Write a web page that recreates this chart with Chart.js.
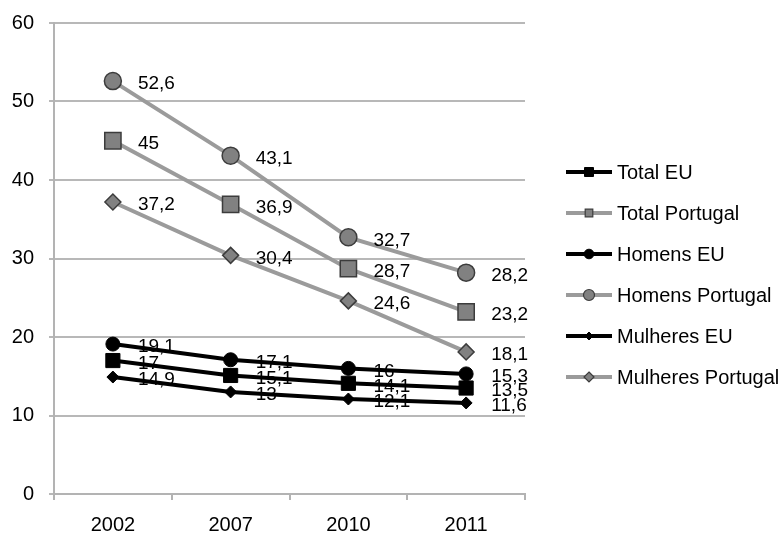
<!DOCTYPE html>
<html>
<head>
<meta charset="utf-8">
<script src="https://cdn.jsdelivr.net/npm/chart.js@4.4.0/dist/chart.umd.min.js"></script>
<style>
html,body{margin:0;padding:0;background:#fff;}
#wrap{width:782px;height:534px;position:relative;}
</style>
</head>
<body>
<div id="wrap"><canvas id="c" width="782" height="534"></canvas></div>
<script>
const categories = ['2002', '2007', '2010', '2011'];
const seriesNames = ['Total EU', 'Total Portugal', 'Homens EU', 'Homens Portugal', 'Mulheres EU', 'Mulheres Portugal'];
const totalEU = [17, 15.1, 14.1, 13.5];
const totalPT = [45, 36.9, 28.7, 23.2];
const homensEU = [19.1, 17.1, 16, 15.3];
const homensPT = [52.6, 43.1, 32.7, 28.2];
const mulheresEU = [14.9, 13, 12.1, 11.6];
const mulheresPT = [37.2, 30.4, 24.6, 18.1];
const yTicks = [0, 10, 20, 30, 40, 50, 60];

const FONT = '"Liberation Sans", Arial, Helvetica, sans-serif';
const GRAY_LINE = '#9b9b9b';
const GRAY_FILL = '#818181';
const GRAY_BORDER = '#3c3c3c';
const BLACK = '#000000';

function ds(label, data, isPT, style, radius) {
  return {
    label: label,
    data: data,
    borderColor: isPT ? GRAY_LINE : BLACK,
    backgroundColor: isPT ? GRAY_FILL : BLACK,
    borderWidth: 4,
    pointStyle: style,
    pointRadius: radius,
    pointHoverRadius: radius,
    pointBackgroundColor: isPT ? GRAY_FILL : BLACK,
    pointBorderColor: isPT ? GRAY_BORDER : BLACK,
    pointBorderWidth: isPT ? 1.5 : 1,
    tension: 0,
    fill: false,
    _isPT: isPT
  };
}

const datasets = [
  ds(seriesNames[0], totalEU, false, 'rect', 10),
  ds(seriesNames[1], totalPT, true, 'rect', 11.5),
  ds(seriesNames[2], homensEU, false, 'circle', 7),
  ds(seriesNames[3], homensPT, true, 'circle', 8.5),
  ds(seriesNames[4], mulheresEU, false, 'rectRot', 6),
  ds(seriesNames[5], mulheresPT, true, 'rectRot', 8)
];

const valueLabels = {
  id: 'valueLabels',
  afterDatasetsDraw(chart) {
    const ctx = chart.ctx;
    ctx.save();
    ctx.font = '19px ' + FONT;
    ctx.fillStyle = '#000';
    ctx.textAlign = 'left';
    ctx.textBaseline = 'middle';
    chart.data.datasets.forEach((d, i) => {
      const meta = chart.getDatasetMeta(i);
      meta.data.forEach((pt, j) => {
        const txt = String(d.data[j]).replace('.', ',');
        ctx.fillText(txt, pt.x + 25, pt.y + 3);
      });
    });
    ctx.restore();
  }
};

const customLegend = {
  id: 'customLegend',
  afterDraw(chart) {
    const ctx = chart.ctx;
    const x0 = chart.chartArea.right + 41;
    const yStart = 172;
    const step = 41;
    ctx.save();
    chart.data.datasets.forEach((d, i) => {
      const y = yStart + i * step;
      ctx.strokeStyle = d.borderColor;
      ctx.lineWidth = 4;
      ctx.beginPath();
      ctx.moveTo(x0, y);
      ctx.lineTo(x0 + 46, y);
      ctx.stroke();
      const cx = x0 + 23;
      ctx.fillStyle = d.pointBackgroundColor;
      ctx.strokeStyle = d.pointBorderColor;
      ctx.lineWidth = d._isPT ? 1.2 : 1;
      ctx.beginPath();
      if (d.pointStyle === 'rect') {
        const s = d._isPT ? 3.8 : 4.5;
        ctx.rect(cx - s, y - s, 2 * s, 2 * s);
      } else if (d.pointStyle === 'circle') {
        ctx.arc(cx, y, d._isPT ? 5.5 : 4.8, 0, Math.PI * 2);
      } else {
        const r = d._isPT ? 5 : 4;
        ctx.moveTo(cx, y - r); ctx.lineTo(cx + r, y); ctx.lineTo(cx, y + r); ctx.lineTo(cx - r, y); ctx.closePath();
      }
      ctx.fill();
      ctx.stroke();
      ctx.fillStyle = '#000';
      ctx.font = '20px ' + FONT;
      ctx.textAlign = 'left';
      ctx.textBaseline = 'middle';
      ctx.fillText(d.label, x0 + 51, y + 1);
    });
    ctx.restore();
  }
};

new Chart(document.getElementById('c'), {
  type: 'line',
  data: { labels: categories, datasets: datasets },
  options: {
    responsive: false,
    animation: false,
    devicePixelRatio: 1,
    layout: { padding: { top: 23, right: 257, bottom: 0, left: 0 } },
    plugins: {
      legend: { display: false },
      tooltip: { enabled: false }
    },
    scales: {
      x: {
        offset: true,
        grid: {
          offset: true,
          drawOnChartArea: false,
          drawTicks: true,
          tickLength: 6,
          color: '#b3b3b3',
          lineWidth: 2
        },
        border: { display: true, color: '#b3b3b3', width: 2 },
        ticks: {
          color: '#000',
          font: { size: 20, family: FONT },
          padding: 13,
          maxRotation: 0
        },
        afterFit(s) { s.height = 40; }
      },
      y: {
        min: 0,
        max: 60,
        afterBuildTicks(s) { s.ticks = yTicks.map(v => ({ value: v })); },
        grid: {
          color: '#b8b8b8',
          lineWidth: 2,
          drawTicks: true,
          tickLength: 5
        },
        border: { display: true, color: '#b3b3b3', width: 2 },
        ticks: {
          color: '#000',
          font: { size: 20, family: FONT },
          padding: 15
        },
        afterFit(s) { s.width = 54; s.paddingTop = 0; s.paddingBottom = 0; }
      }
    }
  },
  plugins: [valueLabels, customLegend]
});
</script>
</body>
</html>
